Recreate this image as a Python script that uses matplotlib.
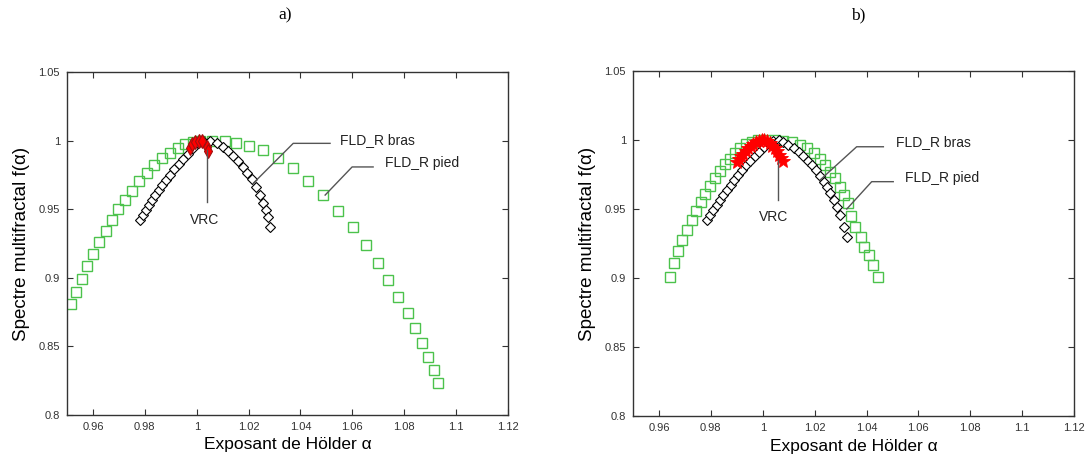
import matplotlib
matplotlib.use('Agg')
import matplotlib.pyplot as plt

plt.rcParams['font.family'] = ['Liberation Sans', 'DejaVu Sans']

# --- panel a) data ---
a_pied_x = [0.9515, 0.9536, 0.9557, 0.9578, 0.9600, 0.9625, 0.9649, 0.9672, 0.9698, 0.9722,
            0.9749, 0.9779, 0.9807, 0.9837, 0.9867, 0.9897, 0.9927, 0.9955, 0.9985, 1.0013,
            1.0060, 1.0109, 1.0150, 1.0203, 1.0257, 1.0315, 1.0372, 1.0430, 1.0488, 1.0546,
            1.0601, 1.0653, 1.0700, 1.0739, 1.0777, 1.0813, 1.0843, 1.0868, 1.0893, 1.0915,
            1.0931]
a_pied_y = [0.8809, 0.8897, 0.8994, 0.9084, 0.9172, 0.9261, 0.9339, 0.9422, 0.9498, 0.9567,
            0.9635, 0.9704, 0.9764, 0.9820, 0.9870, 0.9910, 0.9945, 0.9972, 0.9990, 0.9999,
            1.0000, 0.9995, 0.9985, 0.9962, 0.9928, 0.9871, 0.9798, 0.9708, 0.9603, 0.9490,
            0.9368, 0.9237, 0.9110, 0.8984, 0.8858, 0.8741, 0.8632, 0.8523, 0.8425, 0.8328,
            0.8231]

a_bras_x = [0.9781, 0.9794, 0.9805, 0.9816, 0.9828, 0.9840, 0.9854, 0.9866, 0.9882, 0.9897,
            0.9914, 0.9931, 0.9948, 0.9968, 0.9987, 1.0006, 1.0026,
            1.0051, 1.0077, 1.0103, 1.0122, 1.0141, 1.0160, 1.0180, 1.0195, 1.0212, 1.0229,
            1.0244, 1.0257, 1.0267, 1.0276, 1.0283]
a_bras_y = [0.9422, 0.9458, 0.9494, 0.9531, 0.9567, 0.9604, 0.9640, 0.9677, 0.9713, 0.9750,
            0.9791, 0.9828, 0.9864, 0.9903, 0.9944, 0.9981, 1.0000,
            0.9996, 0.9981, 0.9956, 0.9927, 0.9888, 0.9854, 0.9810, 0.9766, 0.9718, 0.9664,
            0.9604, 0.9548, 0.9494, 0.9441, 0.9368]

a_vrc_x = [0.9974, 0.9981, 0.9995, 1.0008, 1.0019, 1.0038, 1.0044]
a_vrc_y = [0.9944, 0.9975, 0.9992, 0.9998, 0.9995, 0.9951, 0.9927]

# --- panel b) data ---
b_pied_x = [0.9643, 0.9659, 0.9675, 0.9690, 0.9707, 0.9726, 0.9743, 0.9761, 0.9778, 0.9797,
            0.9816, 0.9835, 0.9855, 0.9874, 0.9893, 0.9912, 0.9936, 0.9957, 0.9983, 1.0010,
            1.0047, 1.0080, 1.0112, 1.0145, 1.0170, 1.0196, 1.0222, 1.0241, 1.0260, 1.0277,
            1.0296, 1.0312, 1.0327, 1.0341, 1.0357, 1.0377, 1.0392, 1.0409, 1.0426, 1.0444]
b_pied_y = [0.9009, 0.9111, 0.9198, 0.9275, 0.9348, 0.9420, 0.9488, 0.9553, 0.9609, 0.9667,
            0.9722, 0.9778, 0.9824, 0.9860, 0.9903, 0.9940, 0.9968, 0.9988, 0.9998, 1.0000,
            1.0000, 0.9996, 0.9985, 0.9966, 0.9940, 0.9903, 0.9860, 0.9819, 0.9770, 0.9722,
            0.9662, 0.9601, 0.9541, 0.9449, 0.9372, 0.9295, 0.9227, 0.9167, 0.9094, 0.9009]

b_bras_x = [0.9784, 0.9797, 0.9810, 0.9823, 0.9835, 0.9848, 0.9864, 0.9877, 0.9890, 0.9906,
            0.9919, 0.9936, 0.9951, 0.9970, 0.9987, 1.0005, 1.0022, 1.0041,
            1.0061, 1.0080, 1.0099, 1.0119, 1.0138, 1.0157, 1.0174, 1.0190, 1.0206, 1.0222,
            1.0235, 1.0247, 1.0260, 1.0273, 1.0286, 1.0299, 1.0312, 1.0324]
b_bras_y = [0.9420, 0.9457, 0.9493, 0.9529, 0.9565, 0.9601, 0.9638, 0.9674, 0.9710, 0.9746,
            0.9783, 0.9819, 0.9850, 0.9884, 0.9915, 0.9947, 0.9976, 0.9995,
            0.9998, 0.9988, 0.9964, 0.9940, 0.9915, 0.9884, 0.9850, 0.9819, 0.9783, 0.9739,
            0.9698, 0.9662, 0.9614, 0.9565, 0.9517, 0.9457, 0.9372, 0.9295]

b_vrc_x = [0.9900, 0.9908, 0.9916, 0.9925, 0.9934, 0.9944, 0.9954, 0.9964, 0.9975, 0.9986,
           0.9996, 1.0006, 1.0016, 1.0027, 1.0037, 1.0047, 1.0056, 1.0064, 1.0071, 1.0078]
b_vrc_y = [0.9840, 0.9862, 0.9882, 0.9902, 0.9921, 0.9940, 0.9957, 0.9972, 0.9985, 0.9995,
           1.0000, 0.9998, 0.9990, 0.9977, 0.9960, 0.9940, 0.9917, 0.9893, 0.9868, 0.9845]

x_ticks = [0.96, 0.98, 1.0, 1.02, 1.04, 1.06, 1.08, 1.1, 1.12]
x_labels = ['0.96', '0.98', '1', '1.02', '1.04', '1.06', '1.08', '1.1', '1.12']
y_ticks = [0.8, 0.85, 0.9, 0.95, 1.0, 1.05]
y_labels = ['0.8', '0.85', '0.9', '0.95', '1', '1.05']

green = '#4cc24c'


def panel(ax, pied_x, pied_y, bras_x, bras_y, vrc_x, vrc_y, vrc_marker, notes):
    ax.plot(pied_x, pied_y, 's', mfc='none', mec=green, ms=6.5, mew=1.0, zorder=2)
    ax.plot(bras_x, bras_y, 'D', mfc='white', mec='black', ms=5, mew=0.8, zorder=3)
    if vrc_marker == '*':
        ax.plot(vrc_x, vrc_y, '*', color='red', ms=10, mew=0.6, zorder=4)
    else:
        ax.plot(vrc_x, vrc_y, 'd', mfc='red', mec='#a01010', ms=7, mew=0.8, zorder=4)

    ax.set_xlim(0.95, 1.12)
    ax.set_ylim(0.8, 1.05)
    ax.set_xticks(x_ticks)
    ax.set_xticklabels(x_labels)
    ax.set_yticks(y_ticks)
    ax.set_yticklabels(y_labels)
    ax.tick_params(direction='in', top=True, right=True, length=4, width=0.8,
                   labelsize=8, colors='#333333', pad=5)
    for s in ax.spines.values():
        s.set_linewidth(1.0)
        s.set_color('#333333')
    ax.set_xlabel('Exposant de Hölder α', fontsize=12.5, labelpad=4)
    ax.set_ylabel('Spectre multifractal f(α)', fontsize=13.5, labelpad=6)

    # leader lines and labels
    for lx, ly, tx, ty, txt, ha in notes:
        ax.plot(lx, ly, '-', color='#555555', lw=1.0, zorder=5)
        ax.text(tx, ty, txt, fontsize=10, ha=ha, va='center', color='#222222')


fig = plt.figure(figsize=(10.86, 4.61), dpi=100)
ax1 = fig.add_axes([0.0617, 0.0998, 0.4061, 0.744])
ax2 = fig.add_axes([0.5829, 0.0976, 0.4061, 0.7484])

notes_a = [
    ([1.0039, 1.0039], [0.9931, 0.9555], 1.0032, 0.9421, 'VRC', 'center'),
    ([1.0218, 1.0372, 1.0514], [0.9689, 0.9980, 0.9980], 1.0552, 1.0004, 'FLD_R bras', 'left'),
    ([1.0495, 1.0599, 1.0680], [0.9603, 0.9808, 0.9808], 1.0726, 0.9835, 'FLD_R pied', 'left'),
]
notes_b = [
    ([1.0058, 1.0058], [0.9855, 0.9565], 1.0041, 0.9440, 'VRC', 'center'),
    ([1.0221, 1.0362, 1.0465], [0.9710, 0.9951, 0.9951], 1.0514, 0.9988, 'FLD_R bras', 'left'),
    ([1.0324, 1.0420, 1.0503], [0.9500, 0.9698, 0.9698], 1.0549, 0.9722, 'FLD_R pied', 'left'),
]

panel(ax1, a_pied_x, a_pied_y, a_bras_x, a_bras_y, a_vrc_x, a_vrc_y, 'd', notes_a)
panel(ax2, b_pied_x, b_pied_y, b_bras_x, b_bras_y, b_vrc_x, b_vrc_y, '*', notes_b)

fig.text(285 / 1086, 1 - 15 / 461, 'a)', fontsize=12.5, family='Liberation Serif', ha='center', va='center')
fig.text(858 / 1086, 1 - 15 / 461, 'b)', fontsize=12.5, family='Liberation Serif', ha='center', va='center')

fig.savefig('out.png', dpi=100)
